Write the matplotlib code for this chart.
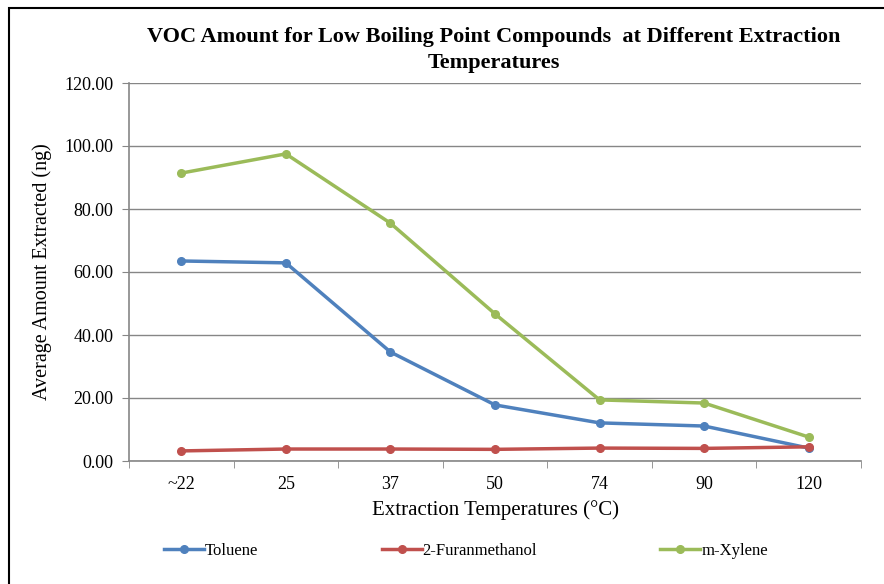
import numpy as np
import matplotlib.pyplot as plt
from matplotlib.patches import Rectangle

plt.rcParams['font.family'] = ['Liberation Serif', 'DejaVu Serif']

temps = ['~22', '25', '37', '50', '74', '90', '120']
toluene = [63.5, 62.9, 34.6, 17.8, 12.1, 11.1, 4.1]
furanmethanol = [3.2, 3.8, 3.8, 3.7, 4.1, 4.0, 4.5]
m_xylene = [91.4, 97.5, 75.5, 46.7, 19.4, 18.4, 7.6]

series = [
    ('Toluene', toluene, '#4F81BD'),
    ('2-Furanmethanol', furanmethanol, '#C0504D'),
    ('m-Xylene', m_xylene, '#9BBB59'),
]

fig = plt.figure(figsize=(8.84, 5.84), dpi=100)
# chart frame
fig.patches.append(Rectangle((9 / 884, -0.05), 1.0, 1 - 8 / 584 + 0.05,
                             transform=fig.transFigure, fill=False,
                             edgecolor='black', linewidth=1.5))

ax = fig.add_axes([129 / 884, 1 - 461 / 584, (861 - 129) / 884, (461 - 83) / 584])
x = np.arange(len(temps))
lines = []
for name, vals, color in series:
    ln, = ax.plot(x, vals, color=color, linewidth=2.5, marker='o',
                  markersize=5.5, label=name)
    lines.append(ln)

ax.set_xlim(-0.5, len(temps) - 0.5)
ax.set_ylim(0, 120)
ax.set_yticks(np.arange(0, 121, 20))
ax.set_yticklabels([f'{v:.2f}' for v in np.arange(0, 121, 20)], fontsize=13)
ax.set_xticks(x)
ax.set_xticklabels(temps, fontsize=13)
ax.set_xticks(np.arange(-0.5, len(temps), 1), minor=True)
ax.tick_params(axis='x', which='major', length=0, pad=11)
ax.tick_params(axis='x', which='minor', length=5, color='#868686')
ax.tick_params(axis='y', length=5, color='#868686', pad=6)
ax.grid(axis='y', color='#868686', linewidth=1)
ax.set_axisbelow(True)
for side in ['top', 'right']:
    ax.spines[side].set_visible(False)
for side in ['left', 'bottom']:
    ax.spines[side].set_color('#868686')
    ax.spines[side].set_linewidth(1.2)

ax.set_xlabel('Extraction Temperatures (°C)', fontsize=15, labelpad=5)
ax.set_ylabel('Average Amount Extracted (ng)', fontsize=14.5, labelpad=9)

fig.text(494 / 884, 1 - 50 / 584,
         'VOC Amount for Low Boiling Point Compounds  at Different Extraction\nTemperatures',
         ha='center', va='center', fontsize=16, fontweight='bold', linespacing=1.35)

fig.legend(handles=lines, loc='center', bbox_to_anchor=(466 / 884, 1 - 551 / 584),
           ncol=3, frameon=False, fontsize=12, columnspacing=7.4,
           handlelength=2.4, handletextpad=0.05)

fig.savefig('out.png', dpi=100)
